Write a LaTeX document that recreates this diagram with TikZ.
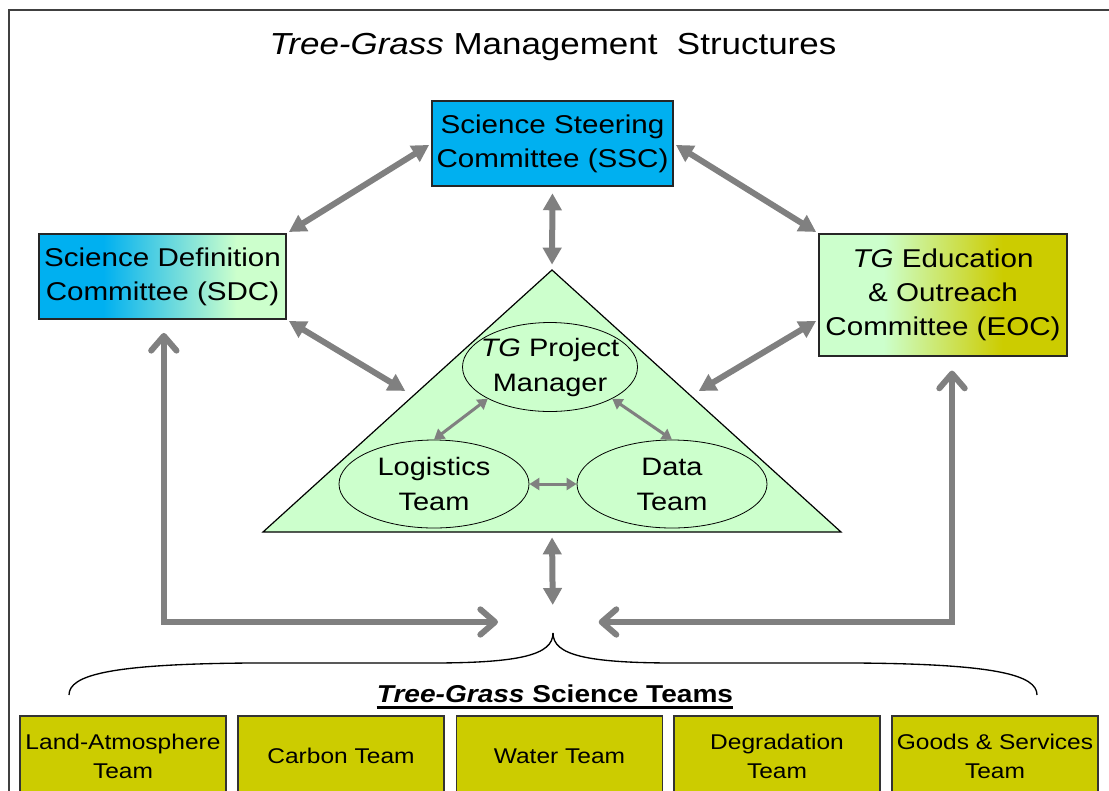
\documentclass[tikz,border=0pt]{standalone}
\usepackage{fontspec}
\setmainfont{Liberation Sans}[FakeStretch=1.15]
\usetikzlibrary{arrows.meta}
\usetikzlibrary{positioning}
\usetikzlibrary{shapes.geometric}
\usetikzlibrary{calc}
\definecolor{tgblue}{RGB}{0,176,240}
\definecolor{tggreen}{RGB}{204,255,204}
\definecolor{tgolive}{RGB}{204,204,0}
\definecolor{tggray}{RGB}{128,128,128}
\pgfdeclarehorizontalshading{sdcshade}{100bp}{color(0bp)=(tgblue); color(38bp)=(tgblue); color(65bp)=(tggreen); color(100bp)=(tggreen)}
\pgfdeclarehorizontalshading{eocshade}{100bp}{color(0bp)=(tggreen); color(38bp)=(tggreen); color(62bp)=(tgolive); color(100bp)=(tgolive)}
\begin{document}
\begin{tikzpicture}[x=0.75pt, y=-0.75pt,
		committee/.style={draw=black!85, line width=0.9pt, align=center, inner sep=0pt, font=\fontsize{19.3}{25.5}\selectfont},
		unit/.style={ellipse, draw, line width=0.6pt, inner sep=0pt},
		unittext/.style={align=center, inner sep=0pt, font=\fontsize{18.9}{26.25}\selectfont},
		teambox/.style={draw=black!80, line width=0.9pt, fill=tgolive, minimum width=154.5pt, minimum height=60pt, align=center, inner sep=0pt, font=\fontsize{16}{21.75}\selectfont},
		bigarrow/.style={draw=tggray, line width=4.5pt, {Triangle[length=12.75pt,width=13.5pt]}-{Triangle[length=12.75pt,width=13.5pt]}},
		smallarrow/.style={draw=tggray, line width=2.25pt, {Triangle[length=7.5pt,width=9pt]}-{Triangle[length=7.5pt,width=9pt]}},
		feedarrow/.style={draw=tggray, line width=4.5pt, {Straight Barb[length=11pt,width=19pt,round]}-{Straight Barb[length=11pt,width=19pt,round]}}]
	\useasboundingbox (0,0) rectangle (1109,790);
	\clip (0,0) rectangle (1109,790);
	\draw[line width=1.5pt, black!75] (9,10) rectangle (1125,805);
	
	\node[font=\fontsize{22.8}{28}\selectfont] (title) at (553,47) {\textit{Tree-Grass} Management\ \ Structures};
	
	\node[committee, fill=tgblue, minimum width=180.75pt, minimum height=63.75pt] (ssc) at (552.5,143.5) {Science Steering\\Committee (SSC)};
	\node[committee, shade, shading=sdcshade, minimum width=185.25pt, minimum height=63.75pt] (sdc) at (162.5,276.5) {Science Definition\\Committee (SDC)};
	\node[committee, shade, shading=eocshade, minimum width=186pt, minimum height=91.5pt] (eoc) at (943,295) {\textit{TG} Education\\\& Outreach\\Committee (EOC)};
	
	\coordinate (apex) at (552,270);
	\coordinate (tl) at (263,532);
	\coordinate (tr) at (841,532);
	\coordinate (tbase) at (552,532);
	\draw[fill=tggreen, line width=0.9pt] (apex) -- (tl) -- (tr) -- cycle;
	
	\node[unit, minimum width=131.25pt, minimum height=66.75pt, label={[unittext]center:{\textit{TG} Project\\Manager}}] (pm) at (550,367) {};
	\node[unit, minimum width=142.5pt, minimum height=66pt, label={[unittext]center:{Logistics\\Team}}] (logistics) at (434,484) {};
	\node[unit, minimum width=142.5pt, minimum height=66pt, label={[unittext]center:{Data\\Team}}] (datateam) at (672,484) {};
	
	\draw[smallarrow] (pm.207) -- (logistics.north);
	\draw[smallarrow] (pm.333) -- (datateam.north);
	\draw[smallarrow] (logistics.east) -- (datateam.west);
	
	\coordinate (cusp) at (553,633);
	\coordinate (hub) at (552,622);
	
	\draw[bigarrow, shorten <=2pt, shorten >=2pt] (sdc.north east) -- (ssc.west);
	\draw[bigarrow, shorten <=2pt, shorten >=2pt] (ssc.east) -- (eoc.north west);
	\draw[bigarrow, shorten <=5pt, shorten >=4pt] (ssc.south) -- (apex);
	\draw[bigarrow, shorten <=2pt, shorten >=7pt] (sdc.south east) -- ($(apex)!0.48!(tl)$);
	\draw[bigarrow, shorten <=2pt, shorten >=7pt] (eoc.west |- sdc.south east) -- ($(apex)!0.48!(tr)$);
	\draw[bigarrow, shorten <=4pt, shorten >=21pt] (tbase) -- (cusp);
	
	\draw[feedarrow, shorten <=10pt, shorten >=40.5pt] ([xshift=1pt]sdc.south) |- (hub);
	\draw[feedarrow, shorten <=10.5pt, shorten >=35pt] ([xshift=6.75pt]eoc.south) |- (hub);
	
	\draw[line width=1pt] (cusp) .. controls (553,655) and (520,663) .. (430,663) -- (250,663) .. controls (110,664) and (69,675) .. (69,695);
	\draw[line width=1pt] (cusp) .. controls (553,655) and (586,663) .. (676,663) -- (856,663) .. controls (996,664) and (1037,675) .. (1037,695);
	
	\node[inner sep=0pt, font=\bfseries\fontsize{18.3}{22}\selectfont] (teamshead) at (555,693.5) {\textit{Tree-Grass} Science Teams};
	\draw[line width=2.25pt] ([yshift=-3.75pt]teamshead.base west) -- ([yshift=-3.75pt]teamshead.base east);
	
	\foreach \x/\name/\txt in {123/landatm/{Land-Atmosphere\\Team}, 341/carbon/{Carbon Team}, 559.5/water/{Water Team}, 777/degradation/{Degradation\\Team}, 995/goods/{Goods \& Services\\Team}}
		\node[teambox] (\name) at (\x,756) {\txt};
\end{tikzpicture}
\end{document}
